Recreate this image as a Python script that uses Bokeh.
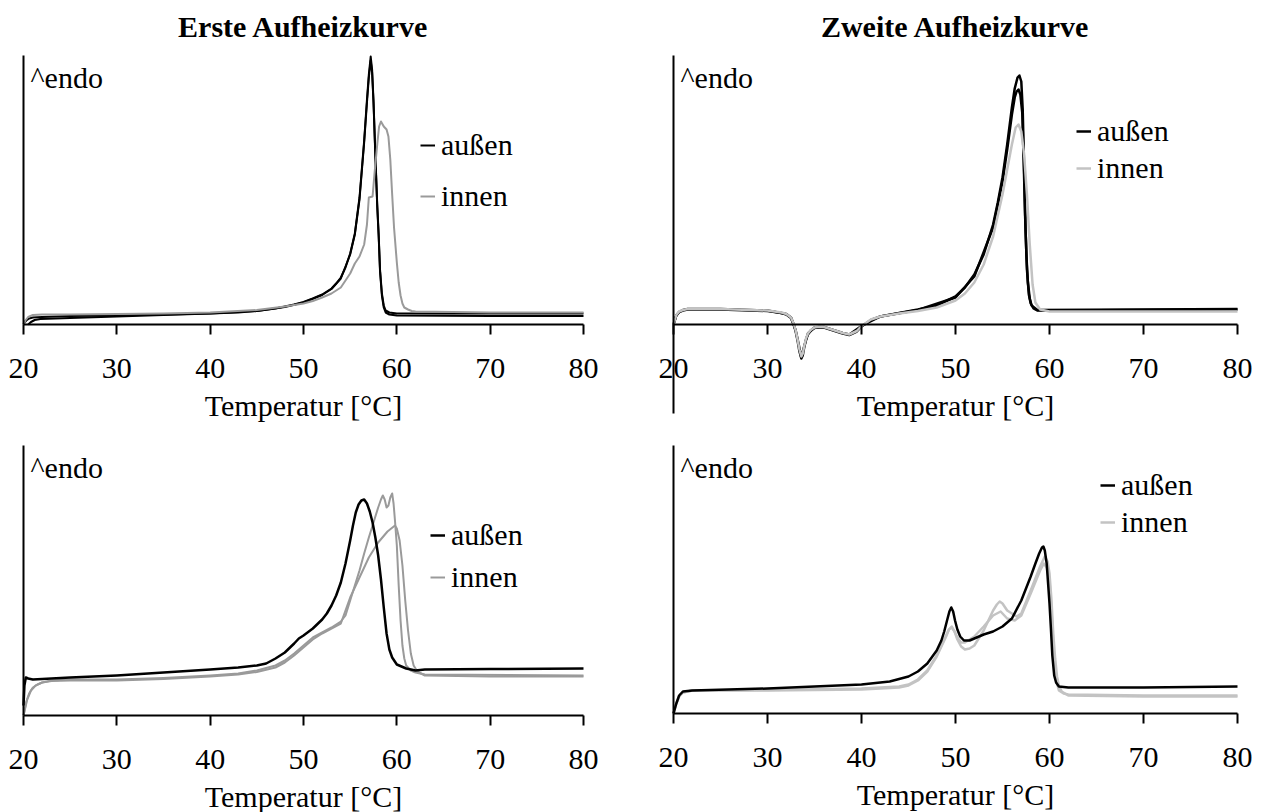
from bokeh.plotting import figure
from bokeh.models import Range1d, FixedTicker, Label, Legend, LegendItem
from bokeh.layouts import row, column
from bokeh.embed import file_html
from bokeh.resources import INLINE

FONT = "Liberation Serif"
TEMP_TICKS = [20, 30, 40, 50, 60, 70, 80]
SERIES = ["außen", "innen"]
TITLES = ["Erste Aufheizkurve", "Zweite Aufheizkurve"]
X_LABEL = "Temperatur [°C]"
ENDO = "^endo"

# ---- Probe 1, erste Aufheizkurve (Wärmestrom, relative Einheiten) ----
p1_erste_aussen1_T = [20.0, 20.15, 20.3, 20.6, 21.0, 22.0, 25.0, 30.0, 35.0, 40.0, 43.0, 45.0, 47.0, 48.0,
                      49.0, 50.0, 51.0, 52.0, 52.5, 53.0, 53.5, 54.0, 54.5, 55.0, 55.5, 56.0, 56.5, 56.8,
                      57.0, 57.2, 57.35, 57.5, 57.7, 57.9, 58.05, 58.2, 58.4, 58.6, 58.8, 59.2, 60.0, 70.0,
                      80.0]
p1_erste_aussen1_W = [0, 2.5, 4, 6, 7, 7.5, 8.5, 9, 10, 11, 12, 13.5, 16, 18,
                      20, 22.5, 26, 30, 33, 36, 41, 47, 57, 71, 91, 127, 184, 225,
                      250, 268, 255, 224, 170, 120, 91, 55, 31, 19, 14, 12, 11, 11,
                      11]
p1_erste_aussen2_T = [20.5, 20.8, 21.2, 21.8, 25.0, 30.0, 35.0, 40.0, 45.0, 48.0, 50.0, 52.0, 53.0,
                      54.0, 55.0, 55.5, 56.0, 56.5, 56.8, 57.0, 57.2, 57.35, 57.5, 57.7, 57.9, 58.05,
                      58.2, 58.4, 58.6, 58.8, 59.2, 60.0, 70.0, 80.0]
p1_erste_aussen2_W = [0, 2.5, 4.5, 5.5, 6.5, 8, 9.5, 11, 13.5, 17.5, 22, 29.5, 35.5,
                      46, 70, 90, 125, 182, 222, 247, 264, 252, 222, 168, 118, 89,
                      53, 29, 17, 12, 10, 9, 8.5, 8.5]
p1_erste_innen_T = [20.0, 20.2, 20.5, 21.0, 22.0, 25.0, 30.0, 35.0, 40.0, 45.0, 48.0, 50.0, 51.0, 52.0,
                    53.0, 54.0, 55.0, 55.5, 56.0, 56.5, 56.8, 57.0, 57.4, 57.6, 57.9, 58.1, 58.3, 58.6,
                    58.9, 59.1, 59.3, 59.5, 59.7, 60.0, 60.2, 60.4, 60.6, 60.8, 61.2, 61.6, 62.0, 70.0,
                    80.0]
p1_erste_innen_W = [0, 4, 7.5, 9.5, 10, 10, 10.5, 11, 12, 14.5, 18, 21, 23.5, 27,
                    31, 37, 51, 61, 68, 80, 100, 127, 128, 150, 180, 198, 203, 198,
                    195, 188, 165, 130, 97, 62, 42, 29, 21, 17, 15, 13.5, 13, 12,
                    12]

# ---- Probe 1, zweite Aufheizkurve ----
p1_zweite_aussen1_T = [20.0, 20.3, 20.6, 21.0, 21.5, 25.0, 30.0, 31.5, 32.0, 32.5, 32.8, 33.0, 33.2, 33.4,
                       33.6, 33.75, 33.9, 34.1, 34.3, 34.6, 35.0, 35.5, 36.0, 37.0, 38.0, 38.7, 39.5, 40.0,
                       41.0, 42.0, 44.0, 46.0, 48.0, 50.0, 51.0, 52.0, 53.0, 54.0, 54.5, 55.0, 55.5, 56.0,
                       56.3, 56.6, 56.8, 57.0, 57.15, 57.3, 57.45, 57.6, 57.8, 58.0, 58.3, 58.7, 60.0, 70.0,
                       80.0]
p1_zweite_aussen1_W = [0, 9, 12.5, 14, 15, 15, 13.5, 11.5, 10, 6.5, 0, -7, -16, -27,
                       -34, -31, -23, -15, -10, -6, -3.5, -2.5, -3, -6, -9, -10.5, -7, -2,
                       4.5, 8, 11.5, 15, 19, 28, 37, 50, 70, 100, 122, 147, 180, 217,
                       236, 247, 249, 243, 215, 155, 95, 55, 30, 21, 16, 14, 14, 14.5,
                       15]
p1_zweite_aussen2_T = [20.0, 20.3, 20.6, 21.0, 21.5, 25.0, 30.0, 32.0, 32.5, 33.0, 33.3, 33.6, 33.9,
                       34.3, 35.0, 36.0, 38.0, 38.7, 40.0, 42.0, 46.0, 50.0, 52.0, 54.0, 55.0, 55.5,
                       56.0, 56.3, 56.5, 56.7, 56.9, 57.1, 57.25, 57.4, 57.55, 57.7, 57.9, 58.1, 58.7,
                       70.0, 80.0]
p1_zweite_aussen2_W = [0, 9, 12.5, 14.5, 15.5, 15.5, 14, 10.5, 7, -6, -19, -33, -22,
                       -9, -3, -2.5, -8.5, -10, -1.5, 8, 14.5, 27, 48, 97, 143, 175,
                       210, 227, 233, 235, 230, 212, 165, 110, 68, 42, 26, 19, 14.5,
                       15, 15.5]
p1_zweite_innen_T = [20.0, 20.3, 20.6, 21.0, 21.5, 25.0, 30.0, 31.5, 32.0, 32.5, 32.8, 33.0, 33.2, 33.4,
                     33.6, 33.75, 33.9, 34.1, 34.3, 34.6, 35.0, 35.5, 36.0, 37.0, 38.0, 38.7, 39.5, 40.0,
                     41.0, 42.0, 44.0, 46.0, 48.0, 50.0, 51.0, 52.0, 53.0, 54.0, 55.0, 55.5, 56.0, 56.4,
                     56.7, 57.0, 57.3, 57.6, 57.9, 58.2, 58.5, 59.0, 60.0, 70.0, 80.0]
p1_zweite_innen_W = [0, 9.5, 13, 14.5, 15.5, 15.5, 14, 12, 10.5, 7, 0.5, -6, -15, -25,
                     -32, -29, -22, -14, -9, -5.5, -3, -2, -2.5, -5.5, -8.5, -10, -6.5, -1.5,
                     5, 8, 11, 13.5, 17, 24, 31, 42, 60, 88, 130, 155, 180, 197,
                     200, 193, 170, 130, 80, 40, 22, 15, 13, 13, 13]

# ---- Probe 2, erste Aufheizkurve ----
p2_erste_aussen_T = [20.0, 20.1, 20.25, 20.5, 21.0, 22.0, 25.0, 30.0, 35.0, 40.0, 43.0, 45.0, 46.0, 47.0,
                     48.0, 49.0, 49.5, 50.0, 51.0, 52.0, 52.5, 53.0, 53.5, 54.0, 54.5, 55.0, 55.3, 55.6,
                     55.9, 56.2, 56.5, 56.8, 57.1, 57.4, 57.7, 58.0, 58.3, 58.6, 58.9, 59.2, 59.5, 60.0,
                     61.0, 62.0, 63.0, 70.0, 80.0]
p2_erste_aussen_W = [10, 30, 38, 37, 36, 36.5, 38, 40, 43, 46, 48, 50, 52, 57,
                     63, 72, 77, 80, 87, 96, 102, 110, 120, 133, 152, 175, 190, 203,
                     211, 215, 216, 212, 204, 193, 178, 160, 136, 108, 82, 66, 58, 51,
                     47, 45, 46, 46.5, 47]
p2_erste_innen1_T = [20.0, 20.3, 20.6, 21.0, 21.5, 22.0, 23.0, 25.0, 30.0, 35.0, 40.0, 43.0, 45.0, 47.0,
                     48.0, 49.0, 50.0, 51.0, 52.0, 53.0, 54.0, 54.5, 55.0, 55.5, 56.0, 56.5, 57.0, 57.5,
                     58.0, 58.3, 58.5, 58.7, 58.9, 59.1, 59.3, 59.5, 59.65, 59.8, 60.0, 60.2, 60.4, 60.6,
                     60.8, 61.0, 61.5, 62.0, 63.0, 80.0]
p2_erste_innen1_W = [0, 14, 22, 28, 31, 33, 35, 36, 36, 37.5, 40, 42, 45, 50,
                     55, 62, 70, 78, 83, 88, 94, 100, 115, 130, 145, 162, 178, 193,
                     208, 216, 220, 216, 208, 210, 218, 222, 212, 195, 170, 130, 95, 70,
                     57, 50, 45, 43, 41, 40]
p2_erste_innen2_T = [20.0, 20.4, 20.8, 21.3, 22.0, 23.0, 25.0, 30.0, 35.0, 40.0, 43.0, 45.0, 47.0, 48.0,
                     49.0, 50.0, 51.0, 52.0, 53.0, 54.0, 55.0, 56.0, 57.0, 58.0, 59.0, 59.8, 60.0, 60.3,
                     60.6, 60.9, 61.2, 61.5, 61.8, 62.2, 63.0, 70.0, 80.0]
p2_erste_innen2_W = [0, 16, 25, 30, 33, 34.5, 35, 35, 36.5, 39, 41, 43.5, 48, 53,
                     60, 68, 76, 82, 87, 92, 118, 138, 158, 173, 184, 190, 187, 175,
                     150, 115, 85, 62, 50, 44, 40, 39, 39]

# ---- Probe 2, zweite Aufheizkurve ----
p2_zweite_aussen_T = [20.0, 20.3, 20.6, 21.0, 22.0, 30.0, 40.0, 43.0, 45.0, 46.0, 47.0, 48.0, 48.5, 48.8,
                      49.1, 49.35, 49.55, 49.75, 49.95, 50.2, 50.5, 50.9, 51.5, 52.0, 53.0, 54.0, 55.0, 56.0,
                      57.0, 57.5, 58.0, 58.5, 58.9, 59.2, 59.35, 59.5, 59.7, 59.85, 60.0, 60.15, 60.3, 60.5,
                      60.7, 61.0, 62.0, 70.0, 80.0]
p2_zweite_aussen_W = [0, 10, 18, 22, 23, 25, 29, 32, 37, 42, 50, 63, 73, 82,
                      93, 102, 106, 102, 93, 84, 77, 73, 73, 75, 79, 82, 87, 95,
                      113, 125, 137, 150, 160, 166, 167, 163, 150, 130, 110, 85, 58, 38,
                      31, 27, 26, 26, 27]
p2_zweite_innen1_T = [20.0, 20.3, 20.6, 21.0, 22.0, 30.0, 40.0, 44.0, 45.0, 46.0, 47.0, 48.0, 49.0, 49.3,
                      49.6, 49.9, 50.2, 50.6, 51.0, 51.5, 52.0, 53.0, 54.0, 54.4, 54.7, 55.0, 55.5, 56.0,
                      56.5, 57.0, 58.0, 59.0, 59.5, 59.8, 60.0, 60.2, 60.4, 60.6, 60.8, 61.0, 61.3, 62.0,
                      70.0, 80.0]
p2_zweite_innen1_W = [0, 10, 17, 21, 23, 23, 24, 26, 28, 33, 42, 57, 77, 84,
                      87, 82, 74, 67, 64, 65, 68, 83, 103, 109, 112, 110, 103, 100,
                      97, 100, 123, 147, 157, 152, 140, 115, 80, 55, 37, 28, 22, 18,
                      17, 17]
p2_zweite_innen2_T = [20.0, 20.3, 20.6, 21.0, 22.0, 30.0, 40.0, 44.0, 45.0, 46.0, 47.0, 48.0, 49.0, 49.3,
                      49.6, 49.9, 50.2, 50.6, 51.0, 52.0, 53.0, 54.0, 54.8, 55.5, 56.3, 57.0, 58.0, 59.0,
                      59.4, 59.7, 60.0, 60.2, 60.5, 60.8, 61.0, 61.5, 62.0, 70.0, 80.0]
p2_zweite_innen2_W = [0, 10, 17, 21, 23, 23.5, 25, 27, 29, 34, 43, 58, 78, 84,
                      86, 82, 76, 71, 71, 77, 87, 98, 102, 95, 93, 98, 120, 143,
                      150, 146, 133, 105, 53, 30, 23, 20, 19, 18, 18]

BLACK = "#000000"
GRAY = "#9a9a9a"
LIGHT = "#c3c3c3"
SIZE = "30px"


def panel(width, height, x_px, axis_px, y_top, y_bottom, title=None):
    """Diagramm, dessen Zeichenfläche die ganze Figur einnimmt.

    x_px: Pixelpositionen von 20 °C und 80 °C, axis_px: Pixelzeile der Nulllinie
    (von oben); eine Werteinheit entspricht einem Pixel.
    """
    ppd = (x_px[1] - x_px[0]) / (TEMP_TICKS[-1] - TEMP_TICKS[0])
    x_range = Range1d(TEMP_TICKS[0] - x_px[0] / ppd, TEMP_TICKS[-1] + (width - x_px[1]) / ppd)
    y_range = Range1d(axis_px - height, axis_px)
    p = figure(width=width, height=height, x_range=x_range, y_range=y_range,
               output_backend="svg", toolbar_location=None,
               min_border_left=0, min_border_right=0, min_border_top=0, min_border_bottom=0,
               background_fill_color="white", border_fill_color="white")
    if "frame_align" in p.properties():
        p.frame_align = False
    p.outline_line_color = None
    p.xgrid.visible = False
    p.ygrid.visible = False

    xa = p.xaxis[0]
    xa.fixed_location = 0
    xa.bounds = (TEMP_TICKS[0], TEMP_TICKS[-1])
    xa.ticker = FixedTicker(ticks=TEMP_TICKS, minor_ticks=[])
    xa.axis_line_width = 2
    xa.axis_line_color = "black"
    xa.major_tick_line_width = 2
    xa.major_tick_line_color = "black"
    xa.major_tick_out = 10
    xa.major_tick_in = 0
    xa.minor_tick_out = 0
    xa.minor_tick_in = 0
    xa.major_label_text_font = FONT
    xa.major_label_text_font_size = SIZE
    xa.major_label_text_color = "black"
    xa.major_label_standoff = 24
    xa.axis_label = X_LABEL
    xa.axis_label_text_font = FONT
    xa.axis_label_text_font_size = SIZE
    xa.axis_label_text_font_style = "normal"
    xa.axis_label_text_color = "black"
    xa.axis_label_standoff = 8

    ya = p.yaxis[0]
    ya.fixed_location = TEMP_TICKS[0]
    ya.bounds = (y_bottom, y_top)
    ya.ticker = FixedTicker(ticks=[], minor_ticks=[])
    ya.axis_line_width = 2
    ya.axis_line_color = "black"
    ya.major_tick_out = 0
    ya.major_tick_in = 0
    ya.minor_tick_out = 0
    ya.minor_tick_in = 0

    if title:
        p.add_layout(Label(x=50, y=y_top, y_offset=29, text=title, text_align="center",
                           text_baseline="alphabetic", text_font=FONT, text_font_size=SIZE,
                           text_font_style="bold", text_color="black"))

    p.add_layout(Label(x=TEMP_TICKS[0], y=y_top, x_offset=7, y_offset=-22, text=ENDO,
                       text_baseline="alphabetic", text_font=FONT, text_font_size=SIZE,
                       text_color="black"))
    return p


def curves(p, data, color, width=2):
    rs = []
    for T, W in data:
        rs.append(p.line(T, W, line_color=color, line_width=width, line_join="round"))
    return rs


def legend(p, r_aussen, r_innen, x, y, spacing):
    lg = Legend(items=[LegendItem(label=SERIES[0], renderers=[r_aussen]),
                       LegendItem(label=SERIES[1], renderers=[r_innen])],
                location=(x, y), orientation="vertical",
                label_text_font=FONT, label_text_font_size=SIZE, label_text_color="black",
                glyph_width=15, glyph_height=34, label_height=34, label_standoff=6,
                spacing=spacing, padding=0, margin=0,
                border_line_color=None, background_fill_alpha=0)
    p.add_layout(lg, "center")


# oben links: Probe 1, erste Aufheizkurve
f1 = panel(630, 440, (23, 583), 324, 269, 0, title=TITLES[0])
ra = curves(f1, [(p1_erste_aussen2_T, p1_erste_aussen2_W), (p1_erste_aussen1_T, p1_erste_aussen1_W)], BLACK)
ri = curves(f1, [(p1_erste_innen_T, p1_erste_innen_W)], GRAY)
legend(f1, ra[1], ri[0], 420, 227, 17)

# oben rechts: Probe 1, zweite Aufheizkurve (Ordinate reicht unter die Nulllinie)
f2 = panel(631, 440, (43, 607), 324, 269, -89, title=TITLES[1])
ra = curves(f2, [(p1_zweite_aussen2_T, p1_zweite_aussen2_W), (p1_zweite_aussen1_T, p1_zweite_aussen1_W)], BLACK, 2.5)
ri = curves(f2, [(p1_zweite_innen_T, p1_zweite_innen_W)], LIGHT, 2.5)
legend(f2, ra[1], ri[0], 446, 255, 3)

# unten links: Probe 2, erste Aufheizkurve
f3 = panel(630, 372, (23, 583), 275, 270, 0)
ri = curves(f3, [(p2_erste_innen2_T, p2_erste_innen2_W), (p2_erste_innen1_T, p2_erste_innen1_W)], GRAY)
ra = curves(f3, [(p2_erste_aussen_T, p2_erste_aussen_W)], BLACK, 2.5)
legend(f3, ra[0], ri[0], 430, 218, 8)

# unten rechts: Probe 2, zweite Aufheizkurve
f4 = panel(631, 372, (43, 607), 273, 268, 0)
ri = curves(f4, [(p2_zweite_innen1_T, p2_zweite_innen1_W), (p2_zweite_innen2_T, p2_zweite_innen2_W)], LIGHT, 2.5)
ra = curves(f4, [(p2_zweite_aussen_T, p2_zweite_aussen_W)], BLACK, 2.5)
legend(f4, ra[0], ri[0], 470, 273, 3)

layout = column(row(f1, f2, spacing=0), row(f3, f4, spacing=0), spacing=0)
open("out.html", "w").write(file_html(layout, INLINE))
